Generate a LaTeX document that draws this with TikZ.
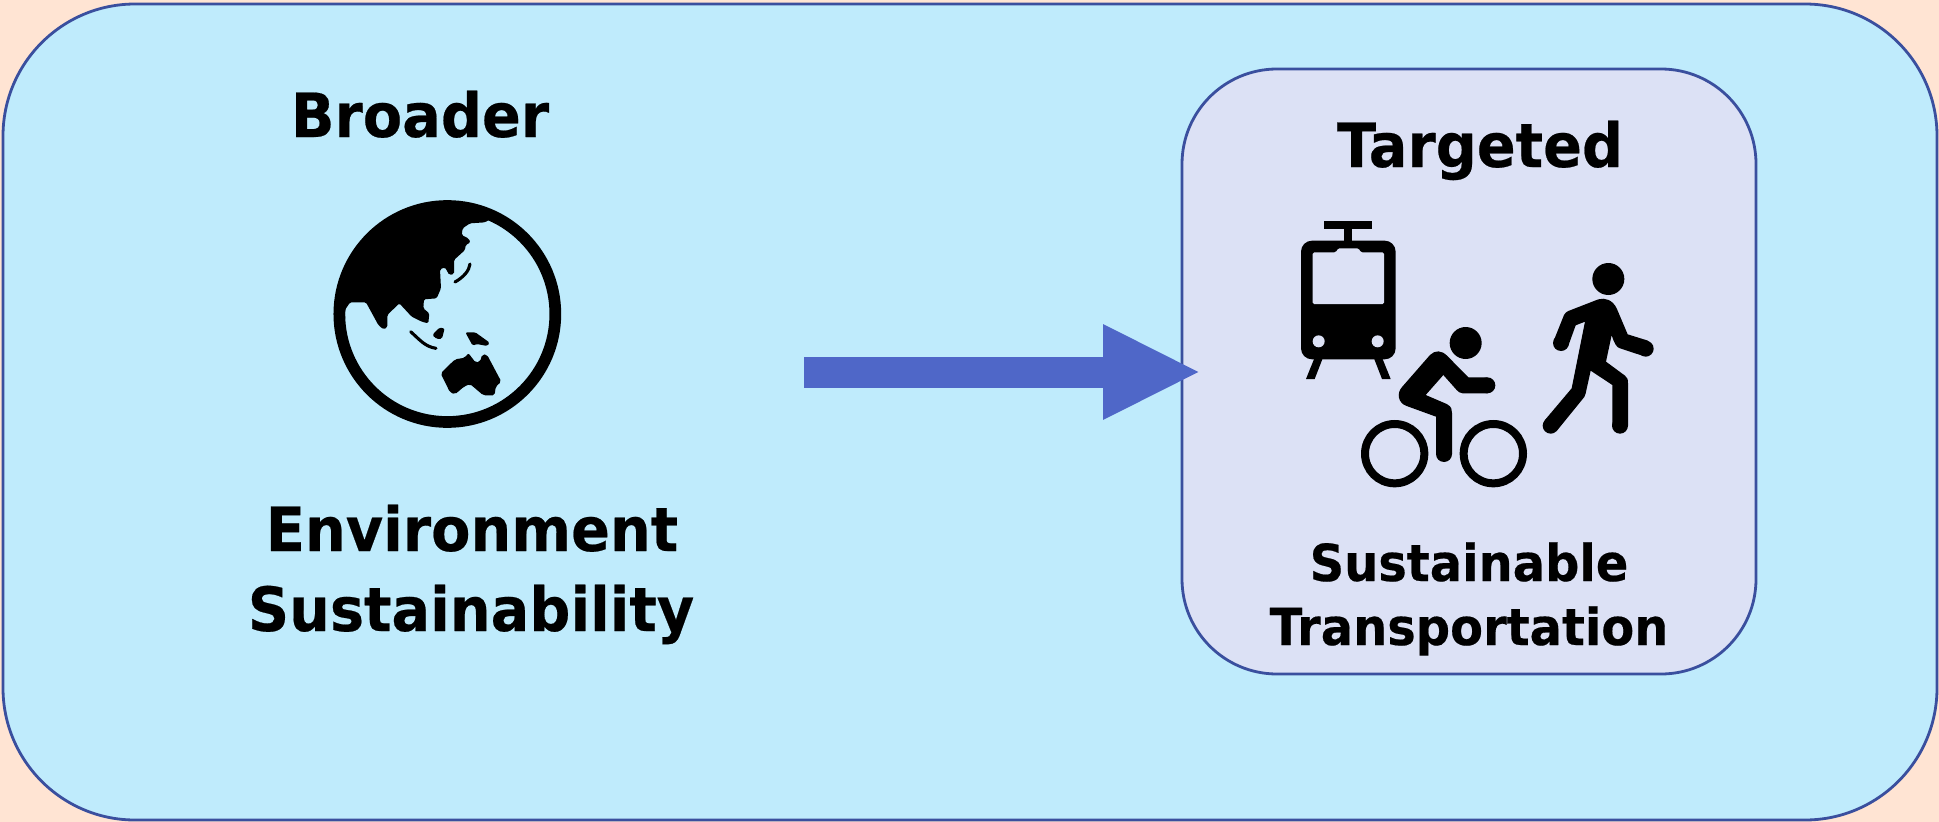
\documentclass[tikz,border=0pt]{standalone}
\usepackage{fontspec}
\setmainfont{DejaVu Sans}[BoldFont={DejaVu Sans Bold},BoldFeatures={FakeStretch=0.94,FakeBold=0.35}]
\usetikzlibrary{arrows.meta}
\definecolor{pagebg}{HTML}{FFE4D3}
\definecolor{outerfill}{HTML}{BFEBFC}
\definecolor{innerfill}{HTML}{DCE1F5}
\definecolor{edgeblue}{HTML}{3A4F9E}
\definecolor{arrowblue}{HTML}{4F67C8}
\tikzset{
  x=1pt,y=-1pt,
  panel/.style={draw=edgeblue,line width=2.8pt},
  headA/.style={font=\bfseries\fontsize{61}{80}\selectfont,align=center,inner sep=0,anchor=base},
  headB/.style={font=\bfseries\fontsize{51}{64}\selectfont,align=center,inner sep=0,anchor=base},
  ink/.style={fill=black,draw=none},
  flowarrow/.style={draw=arrowblue,line width=31pt,-{Triangle[length=98pt,width=88pt]}},
}
\begin{document}
\begin{tikzpicture}
\useasboundingbox (0,0) rectangle (1939,822);
\fill[pagebg] (0,0) rectangle (1939,822);
\draw[panel,fill=outerfill,rounded corners=132pt] (3,4) rectangle (1937,820);
\draw[panel,fill=innerfill,rounded corners=95pt] (1182,69) rectangle (1756,674);

% headings
\node[headA] (broader) at (420,137) {Broader};
\node[headA] (envA) at (472,551) {Environment};
\node[headA] (envB) at (471,631) {Sustainability};
\node[headA] (targeted) at (1480,167) {Targeted};
\node[headB] (susA) at (1469,581) {Sustainable};
\node[headB] (susB) at (1469,645) {Transportation};

% arrow
\coordinate (arrowstart) at (804,372);
\coordinate (arrowend) at (1201,372);
\draw[flowarrow] (arrowstart) -- (arrowend);

% globe
\begin{scope}[shift={(300,180)},scale=1/3]
  \draw[line width=11.7pt] (442,402) circle[radius=324];
  \begin{scope}
    \clip (442,402) circle[radius=330];
    \fill[ink,rounded corners=1.5pt] (110,420) -- (135,420) -- (135,390) -- (150,367) -- (198,367) -- (235,435) -- (250,448) -- (262,442) -- (262,405) -- (298,370) -- (335,410) -- (365,425) -- (385,430) -- (388,400) -- (370,385) -- (372,358) -- (410,355) -- (423,325) -- (420,268) -- (435,262) -- (448,285) -- (462,282) -- (462,240) -- (495,210) -- (497,195) -- (512,187) -- (505,175) -- (485,165) -- (488,145) -- (510,130) -- (555,127) -- (575,115) -- (560,60) -- (440,40) -- (200,100) -- (80,300) -- cycle;
  \end{scope}
  \draw[line width=3.1pt,line cap=round] (510,252) .. controls (508,272) and (490,292) .. (465,306);
  \draw[line width=3.1pt,line cap=round] (332,455) .. controls (360,480) and (375,500) .. (408,505);
  \fill[ink,rounded corners=1.5pt] (397,465) -- (418,443) -- (434,445) -- (426,476) -- (410,477) -- cycle;
  \fill[ink,rounded corners=1.5pt] (496,457) -- (526,457) -- (569,488) -- (562,498) -- (530,492) -- (518,497) -- cycle;
  \fill[ink,rounded corners=2pt] (422,580) -- (465,538) -- (495,533) -- (505,519) -- (527,548) -- (540,545) -- (547,523) -- (561,524) -- (604,605) -- (587,620) -- (584,646) -- (550,646) -- (510,612) -- (492,620) -- (465,643) -- (450,637) -- cycle;
\end{scope}

% transport icons
\begin{scope}[shift={(1270,200)},scale=1/3]
  % tram
  \fill[ink] (163,62) rectangle (306,86);
  \fill[ink] (223,86) rectangle (247,125);
  \fill[ink,rounded corners=11pt] (93,122) rectangle (377,478);
  \fill[innerfill,rounded corners=1.5pt] (128,312) -- (128,157) -- (198,157) -- (204,145) -- (266,145) -- (272,157) -- (342,157) -- (342,312) -- cycle;
  \fill[innerfill] (146,424) circle[radius=18];
  \fill[innerfill] (323,424) circle[radius=18];
  \fill[ink] (135,470) -- (108,537) -- (134,537) -- (160,470) -- cycle;
  \fill[ink] (310,470) -- (336,537) -- (362,537) -- (335,470) -- cycle;
  % cyclist
  \fill[ink] (587,429) circle[radius=48];
  \draw[line width=8pt] (374,761) circle[radius=89];
  \draw[line width=8pt] (670,761) circle[radius=89];
  \fill[ink] (480,465) .. controls (495,450) and (515,450) .. (532,468) -- (595,532) -- (652,532) -- (652,580) -- (578,580) .. controls (570,580) and (565,575) .. (560,570) -- (520,525) -- (467,585) -- (530,612) .. controls (546,620) and (546,630) .. (546,640) -- (546,762) -- (498,762) -- (498,650) -- (410,618) .. controls (385,610) and (378,580) .. (397,560) -- cycle;
  \fill[ink] (652,556) circle[radius=24];
  \fill[ink] (522,762) circle[radius=24];
  % walker
  \fill[ink] (1015,237) circle[radius=48];
  \fill[ink] (895,333) -- (985,298) .. controls (1005,292) and (1028,300) .. (1040,325) -- (1073,403) -- (1134,422) -- (1120,468) -- (1050,445) .. controls (1040,442) and (1033,432) .. (1025,405) -- (1008,485) -- (1065,527) .. controls (1072,532) and (1074,538) .. (1074,550) -- (1074,677) -- (1027,677) -- (1027,555) -- (962,512) -- (947,580) .. controls (945,590) and (942,592) .. (938,597) -- (860,693) -- (824,661) -- (905,565) -- (945,365) -- (917,376) -- (895,437) -- (852,420) -- (882,345) .. controls (886,338) and (890,335) .. (895,333) -- cycle;
  \fill[ink] (1127,446) circle[radius=24];
  \fill[ink] (1050,677) circle[radius=24];
  \fill[ink] (842,677) circle[radius=24];
  \fill[ink] (873,429) circle[radius=24];
\end{scope}
\end{tikzpicture}
\end{document}
